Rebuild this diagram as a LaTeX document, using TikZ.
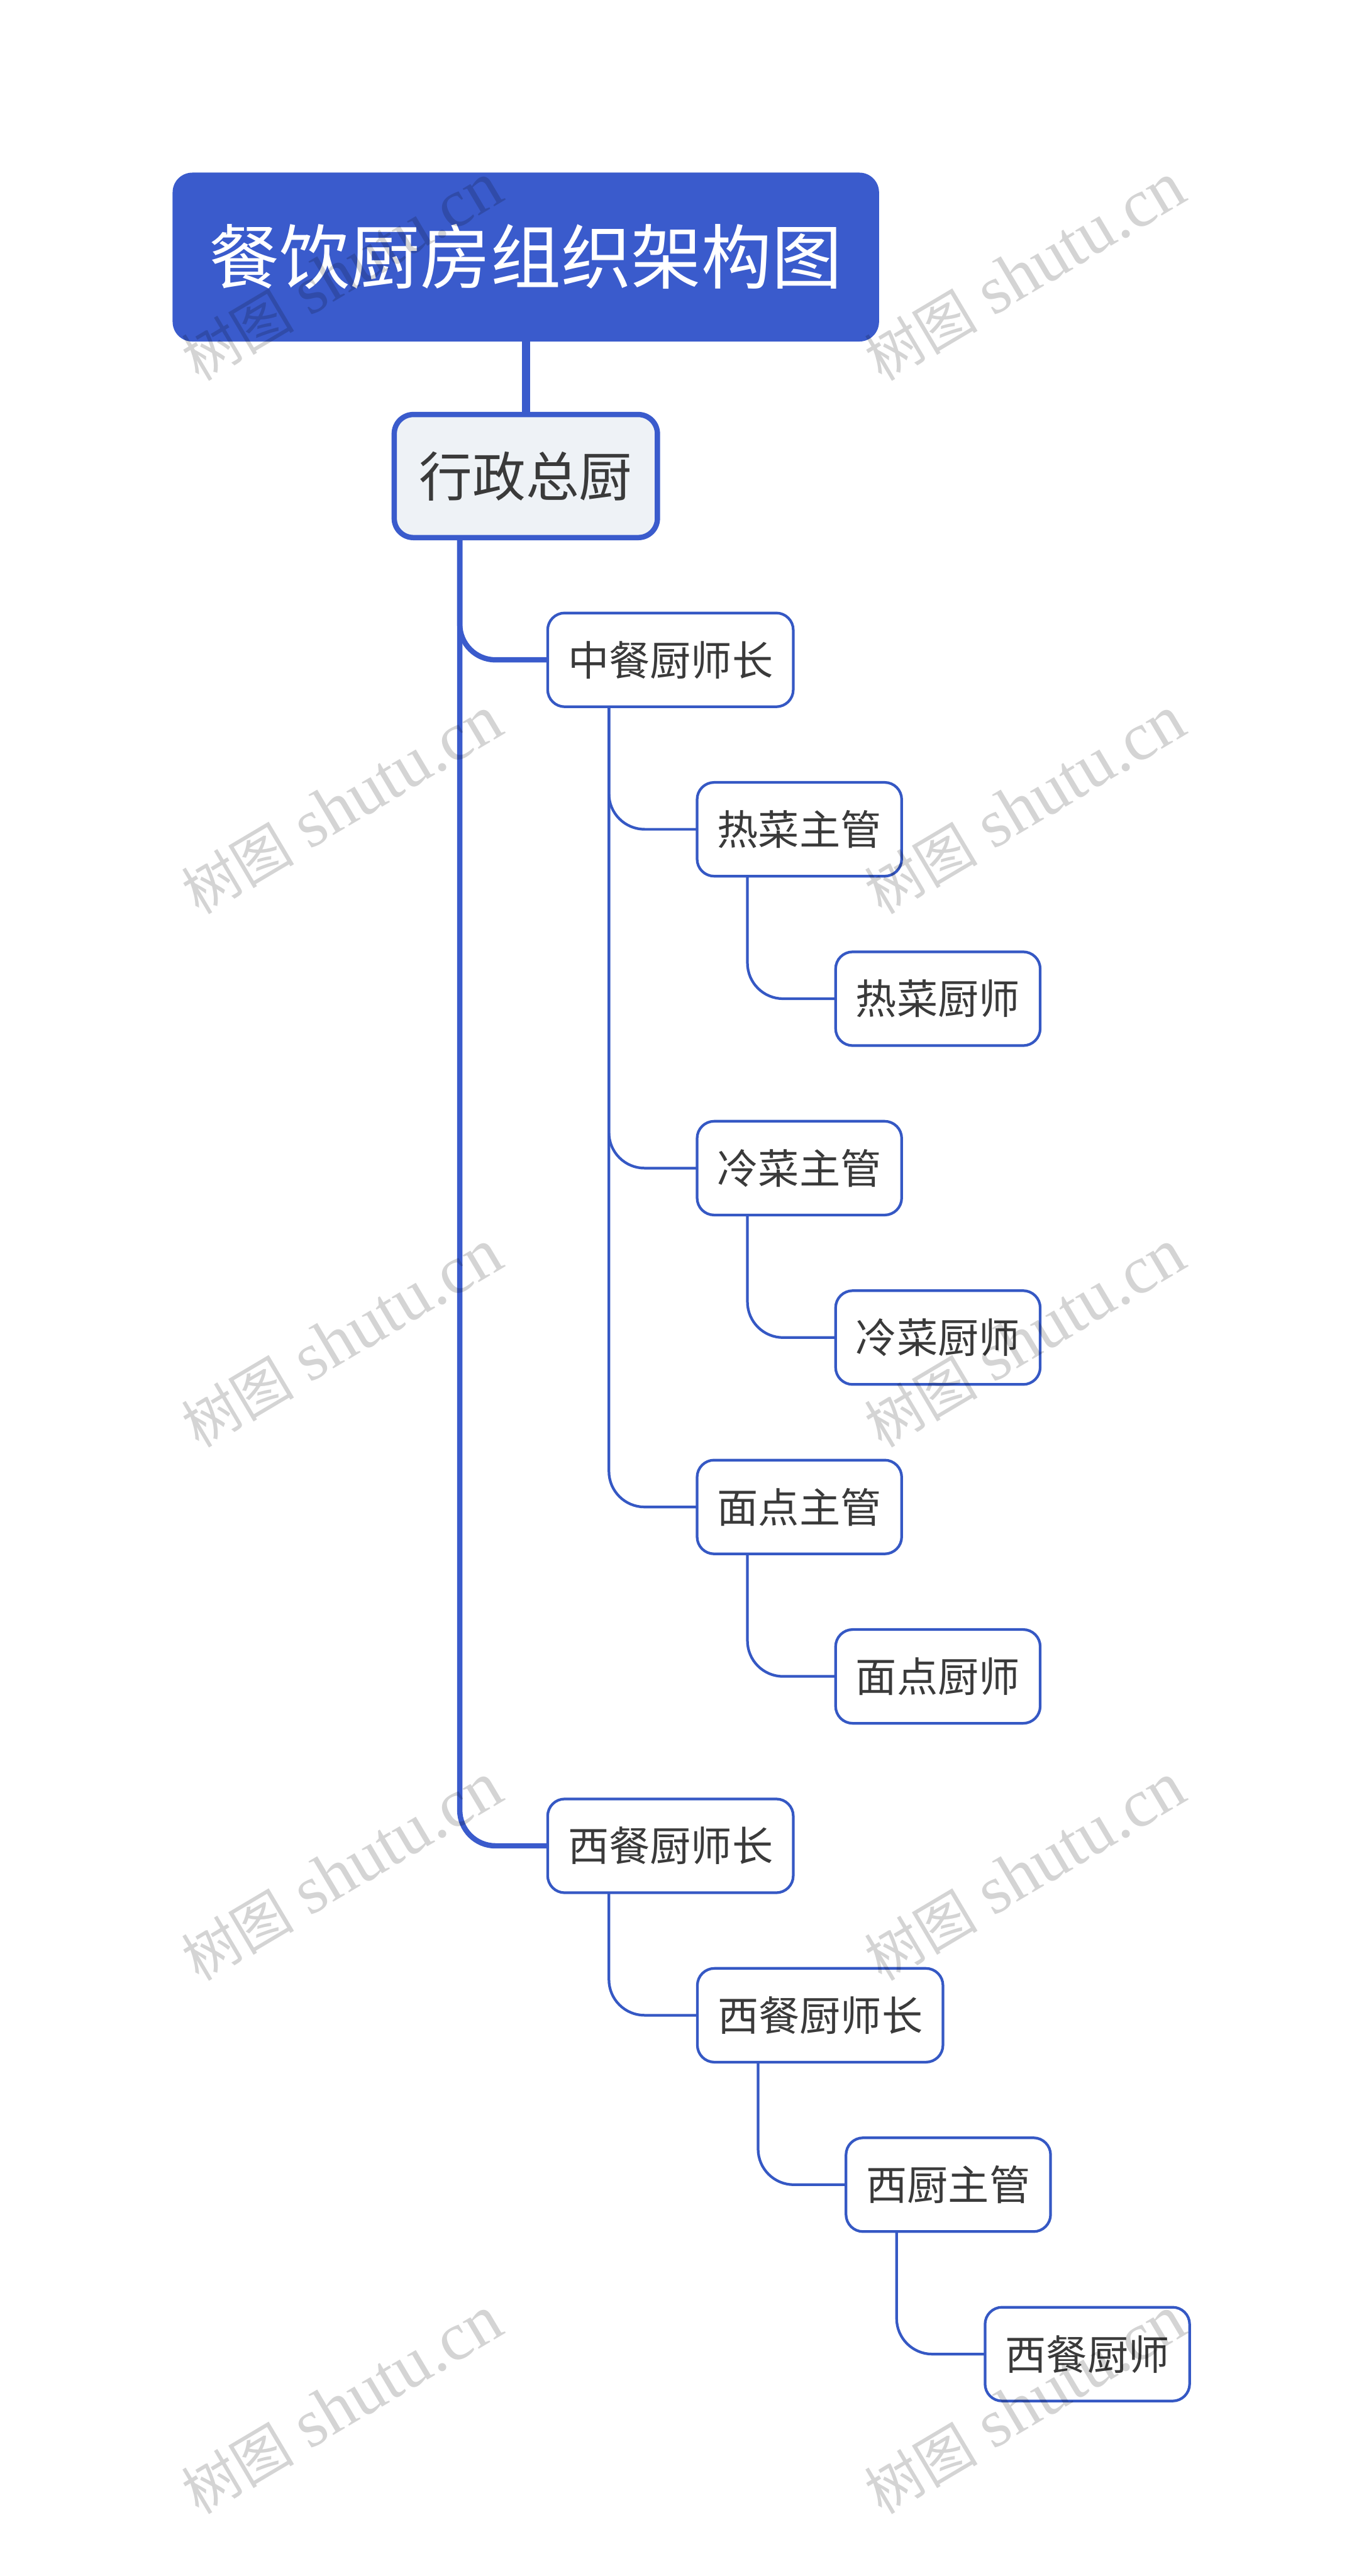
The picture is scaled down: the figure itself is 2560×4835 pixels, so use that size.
\documentclass[tikz,border=0pt]{standalone}
\usepackage{fontspec}
\setmainfont{Noto Sans CJK SC}
\newfontfamily\wmcjk{Noto Sans CJK SC}
\newfontfamily\wmlat{Liberation Serif}
\definecolor{mainblue}{HTML}{3A5BCC}
\definecolor{linkblue}{HTML}{3558C4}
\definecolor{execfill}{HTML}{EEF2F6}
\definecolor{txt}{HTML}{3A3A3A}
\tikzset{
  x=1pt,y=-1pt,
  rootbox/.style={draw=mainblue,fill=mainblue,line width=2pt,rounded corners=36pt,minimum width=1324pt,minimum height=315pt,inner sep=0pt,outer sep=0pt,text=white,font=\fontsize{132}{150}\selectfont},
  execbox/.style={draw=mainblue,fill=execfill,line width=10pt,rounded corners=36pt,minimum width=494pt,minimum height=231pt,inner sep=0pt,outer sep=0pt,text=txt,font=\fontsize{100}{114}\selectfont},
  fivebox/.style={draw=linkblue,fill=white,line width=5pt,rounded corners=32pt,minimum width=461pt,minimum height=176pt,inner sep=0pt,outer sep=0pt,text=txt,font=\fontsize{77}{90}\selectfont},
  fourbox/.style={fivebox,minimum width=384pt},
  linka/.style={draw=mainblue,line width=15pt},
  linkb/.style={draw=mainblue,line width=10pt,rounded corners=67pt},
  linkc/.style={draw=linkblue,line width=5pt,rounded corners=67pt},
  wmark/.style={rotate=30.7,anchor=base,text=black,opacity=0.17,inner sep=0pt}
}
\begin{document}
\begin{tikzpicture}
\useasboundingbox[fill=white] (0,0) rectangle (2560,4835);
\node[rootbox] (root) at (987,482.5) {餐饮厨房组织架构图};
\node[execbox] (exec) at (987,893.5) {行政总厨};
\node[fivebox] (zc) at (1258.5,1238.5) {中餐厨师长};
\node[fourbox] (rz) at (1500.5,1556.5) {热菜主管};
\node[fourbox] (rc) at (1760.5,1874.5) {热菜厨师};
\node[fourbox] (lz) at (1500.5,2192.5) {冷菜主管};
\node[fourbox] (lc) at (1760.5,2510.5) {冷菜厨师};
\node[fourbox] (mz) at (1500.5,2828.5) {面点主管};
\node[fourbox] (mc) at (1760.5,3146.5) {面点厨师};
\node[fivebox] (xa) at (1258.5,3464.5) {西餐厨师长};
\node[fivebox] (xb) at (1539.5,3782.5) {西餐厨师长};
\node[fourbox] (xz) at (1780,4100.5) {西厨主管};
\node[fourbox] (xc) at (2041,4418.5) {西餐厨师};
\draw[linka] (root.south) -- (exec.north);
\draw[linkb] ([xshift=-124pt]exec.south) |- (zc.west);
\draw[linkb] ([xshift=-124pt]exec.south) |- (xa.west);
\draw[linkc] ([xshift=-115.5pt]zc.south) |- (rz.west);
\draw[linkc] ([xshift=-115.5pt]zc.south) |- (lz.west);
\draw[linkc] ([xshift=-115.5pt]zc.south) |- (mz.west);
\draw[linkc] ([xshift=-97.5pt]rz.south) |- (rc.west);
\draw[linkc] ([xshift=-97.5pt]lz.south) |- (lc.west);
\draw[linkc] ([xshift=-97.5pt]mz.south) |- (mc.west);
\draw[linkc] ([xshift=-115.5pt]xa.south) |- (xb.west);
\draw[linkc] ([xshift=-116.5pt]xb.south) |- (xz.west);
\draw[linkc] ([xshift=-97pt]xz.south) |- (xc.west);
\foreach \wx in {662,1945}{
  \foreach \wy in {546,1547,2548,3549,4550}{
    \node[wmark] (wm\wx\wy) at (\wx,\wy) {{\wmcjk\fontsize{106}{120}\selectfont 树图}\hspace{30pt}{\wmlat\fontsize{128}{140}\selectfont shutu.cn}};
  }
}
\end{tikzpicture}
\end{document}
